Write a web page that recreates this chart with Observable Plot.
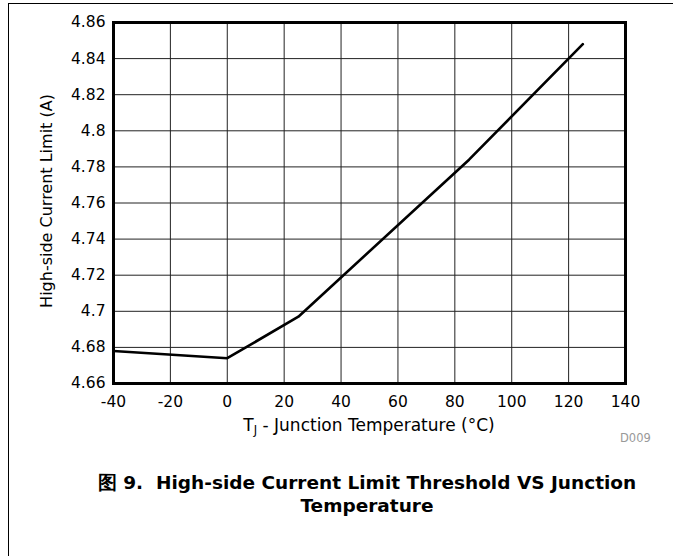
<!DOCTYPE html>
<html><head><meta charset="utf-8">
<script src="https://cdn.jsdelivr.net/npm/d3@7"></script>
<script src="https://cdn.jsdelivr.net/npm/@observablehq/plot@0.6"></script>
<style>
body{margin:0;background:#fff;font-family:"DejaVu Sans",sans-serif;}
#wrap{position:relative;width:673px;height:556px;overflow:hidden;background:#fff;}
#border{position:absolute;left:8px;top:3px;width:700px;height:600px;border-top:1.5px solid #000;border-left:1.5px solid #000;}
#chart{position:absolute;left:0;top:0;}
#d009{position:absolute;left:620px;top:431px;font-size:11.5px;color:#999;}
#caption{position:absolute;left:0;top:471px;width:734px;text-align:center;font-weight:bold;font-size:18.5px;line-height:23px;color:#000;}
</style>
</head><body>
<div id="wrap">
<div id="border"></div>
<div id="chart"></div>
<div id="d009">D009</div>
<div id="caption">图 9.&nbsp; High-side Current Limit Threshold VS Junction<br>Temperature</div>
</div>
<script>
const temps = [-40, 0, 25, 85, 125];
const currents = [4.678, 4.674, 4.697, 4.784, 4.848];
const xTicks = [-40, -20, 0, 20, 40, 60, 80, 100, 120, 140];
const yTicks = [4.66, 4.68, 4.7, 4.72, 4.74, 4.76, 4.78, 4.8, 4.82, 4.84, 4.86];
const xLabel = ["T", "J", " - Junction Temperature (°C)"];
const yLabel = "High-side Current Limit (A)";

const data = temps.map((t, i) => ({t, c: currents[i]}));

const plot = Plot.plot({
  width: 673,
  height: 440,
  marginLeft: 113,
  marginRight: 48,
  marginTop: 22,
  marginBottom: 57,
  style: {fontFamily: "'DejaVu Sans', sans-serif", fontSize: "15.5px", color: "#000", background: "transparent"},
  x: {domain: [-40, 140], ticks: xTicks, tickFormat: d => String(d), label: null},
  y: {domain: [4.66, 4.86], ticks: yTicks, tickFormat: d => String(d), label: null},
  marks: [
    Plot.gridX(xTicks, {stroke: "#222", strokeOpacity: 1, strokeWidth: 1}),
    Plot.gridY(yTicks, {stroke: "#222", strokeOpacity: 1, strokeWidth: 1}),
    Plot.line(data, {x: "t", y: "c", stroke: "#000", strokeWidth: 2.6}),
    Plot.frame({stroke: "#000", strokeWidth: 3}),
    Plot.axisX({ticks: xTicks, tickSize: 0, tickPadding: 12, tickFormat: d => String(d), label: null}),
    Plot.axisY({ticks: yTicks, tickSize: 0, tickPadding: 8, tickFormat: d => String(d), label: null})
  ]
});
document.getElementById("chart").appendChild(plot);

const svg = d3.select(plot);
const xl = svg.append("text")
  .attr("x", 369).attr("y", 431)
  .attr("text-anchor", "middle")
  .attr("font-size", 17)
  .attr("fill", "#000");
xl.append("tspan").text(xLabel[0]);
xl.append("tspan").attr("font-size", 11.5).attr("dy", 3).text(xLabel[1]);
xl.append("tspan").attr("dy", -3).text(xLabel[2]);

svg.append("text")
  .attr("transform", "translate(46,201) rotate(-90)")
  .attr("text-anchor", "middle")
  .attr("dominant-baseline", "central")
  .attr("font-size", 16)
  .attr("fill", "#000")
  .text(yLabel);
</script>
</body></html>
